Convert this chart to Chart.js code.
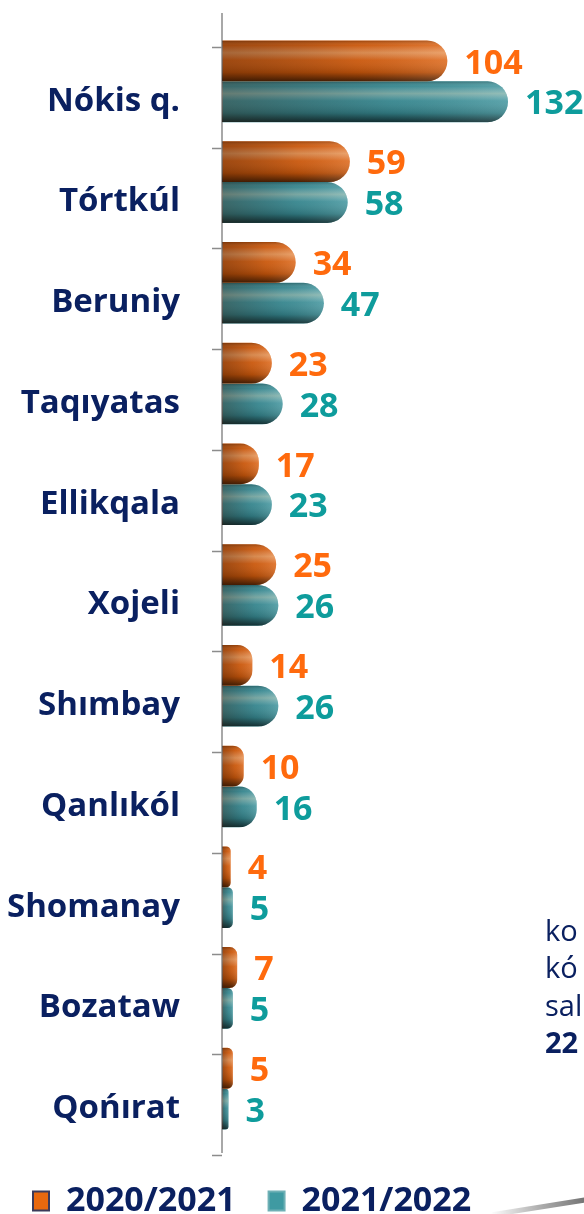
<!DOCTYPE html>
<html>
<head>
<meta charset="utf-8">
<script src="https://cdn.jsdelivr.net/npm/chart.js@4"></script>
<style>
  html, body { margin: 0; padding: 0; background: #fff; }
  #wrap { position: relative; width: 584px; height: 1214px; overflow: hidden; }
  #side { position: absolute; left: 545px; top: 911px; font-family: "Open Sans", sans-serif; font-size: 29px; line-height: 37.3px; color: #0a2060; white-space: nowrap; }
  #side b { font-weight: 700; }
  #swoosh { position: absolute; left: 490px; top: 1203px; width: 120px; height: 5px; background: linear-gradient(to right, rgba(180,180,180,0), #b0b0b0 40%, #555); transform: rotate(-9deg); border-radius: 3px; }
</style>
</head>
<body>
<div id="wrap">
  <canvas id="chart" width="584" height="1214"></canvas>
  <div id="side">ko<br>kó<br>sal<br><b>22</b></div>
  <div id="swoosh"></div>
</div>
<script>
const districts = ['Nókis q.', 'Tórtkúl', 'Beruniy', 'Taqıyatas', 'Ellikqala', 'Xojeli', 'Shımbay', 'Qanlıkól', 'Shomanay', 'Bozataw', 'Qońırat'];
const season1 = [104, 59, 34, 23, 17, 25, 14, 10, 4, 7, 5];
const season2 = [132, 58, 47, 28, 23, 26, 26, 16, 5, 5, 3];
const seriesNames = ['2020/2021', '2021/2022'];

const navy = '#0a2060';
const labelColors = ['#ff6a0d', '#0e9c9c'];

// axis line and tick marks (sit a little lower than the category bounds in the original)
const axisPlugin = {
  id: 'axisLine',
  afterDatasetsDraw(chart) {
    const y = chart.scales.y;
    const ctx = chart.ctx;
    const step = y.height / districts.length;
    const x = chart.chartArea.left;
    ctx.save();
    ctx.strokeStyle = '#8c8c8c';
    ctx.lineWidth = 1.5;
    ctx.beginPath();
    ctx.moveTo(x, y.top - 18);
    ctx.lineTo(x, y.bottom + 14);
    for (let i = 0; i <= districts.length; i++) {
      const ty = Math.round(y.top + step * i + 16) + 0.5;
      ctx.moveTo(x - 10, ty);
      ctx.lineTo(x, ty);
    }
    ctx.stroke();
    ctx.restore();
  }
};

// cylinder shading + value labels
const shadePlugin = {
  id: 'shade',
  afterDatasetsDraw(chart) {
    const ctx = chart.ctx;
    chart.data.datasets.forEach((ds, di) => {
      const meta = chart.getDatasetMeta(di);
      meta.data.forEach((el, i) => {
        const p = el.getProps(['x', 'y', 'base', 'height']);
        const top = p.y - p.height / 2;
        const w = p.x - p.base;
        const r = Math.min(p.height / 2, w / 2);
        ctx.save();
        ctx.beginPath();
        ctx.roundRect(p.base, top, w, p.height, [0, r, r, 0]);
        ctx.clip();
        const g = ctx.createLinearGradient(0, top, 0, top + p.height);
        g.addColorStop(0, 'rgba(0,0,0,0.25)');
        g.addColorStop(0.12, 'rgba(255,255,255,0.05)');
        g.addColorStop(0.3, 'rgba(255,240,210,0.38)');
        g.addColorStop(0.48, 'rgba(255,255,255,0.06)');
        g.addColorStop(0.78, 'rgba(0,0,0,0.15)');
        g.addColorStop(1, 'rgba(0,0,0,0.65)');
        ctx.fillStyle = g;
        ctx.fillRect(p.base, top, w, p.height);
        const h = ctx.createLinearGradient(p.base, 0, p.x, 0);
        h.addColorStop(0, 'rgba(40,15,0,0.35)');
        h.addColorStop(0.6, 'rgba(0,0,0,0.08)');
        h.addColorStop(1, 'rgba(255,255,255,0.12)');
        ctx.fillStyle = h;
        ctx.fillRect(p.base, top, w, p.height);
        ctx.restore();

        ctx.save();
        ctx.font = 'bold 34px "Open Sans"';
        ctx.fillStyle = labelColors[di];
        ctx.textAlign = 'left';
        ctx.textBaseline = 'middle';
        ctx.fillText(ds.data[i], p.x + 17, p.y + 3);
        ctx.restore();
      });
    });
  }
};

new Chart(document.getElementById('chart'), {
  type: 'bar',
  data: {
    labels: districts,
    datasets: [
      { label: seriesNames[0], data: season1, backgroundColor: '#dc5f0c' },
      { label: seriesNames[1], data: season2, backgroundColor: '#3a919a' }
    ]
  },
  options: {
    indexAxis: 'y',
    responsive: false,
    animation: false,
    layout: { padding: { top: 31, right: 37, left: 0, bottom: -14 } },
    datasets: {
      bar: {
        categoryPercentage: 0.81,
        barPercentage: 1.0,
        borderRadius: 100,
        borderSkipped: 'start',
        borderWidth: 0
      }
    },
    scales: {
      x: { display: false, min: 0, max: 150 },
      y: {
        grid: { display: false, drawTicks: false },
        border: { display: false },
        afterFit(scale) {
          scale.width = 222;
          scale.paddingTop = 0;
          scale.paddingBottom = 0;
        },
        ticks: {
          color: navy,
          font: { family: 'Open Sans', size: 33, weight: 'bold' },
          padding: 42,
          labelOffset: 20
        }
      }
    },
    plugins: {
      tooltip: { enabled: false },
      legend: {
        position: 'bottom',
        align: 'start',
        title: { display: true, text: '', font: { size: 1, lineHeight: 1 }, padding: { top: 11, bottom: 0 } },
        labels: {
          color: navy,
          font: { family: 'Open Sans', size: 34, weight: 'bold' },
          boxWidth: 16,
          boxHeight: 19,
          padding: 33,
          generateLabels(chart) {
            const fills = ['#e8680e', '#3f9aa2'];
            const strokes = ['#3b3a5a', '#6fb0b5'];
            return chart.data.datasets.map((ds, i) => ({
              text: ds.label,
              fillStyle: fills[i],
              strokeStyle: strokes[i],
              lineWidth: 2,
              fontColor: navy,
              datasetIndex: i,
              hidden: false
            }));
          }
        }
      }
    }
  },
  plugins: [axisPlugin, shadePlugin]
});
</script>
</body>
</html>
